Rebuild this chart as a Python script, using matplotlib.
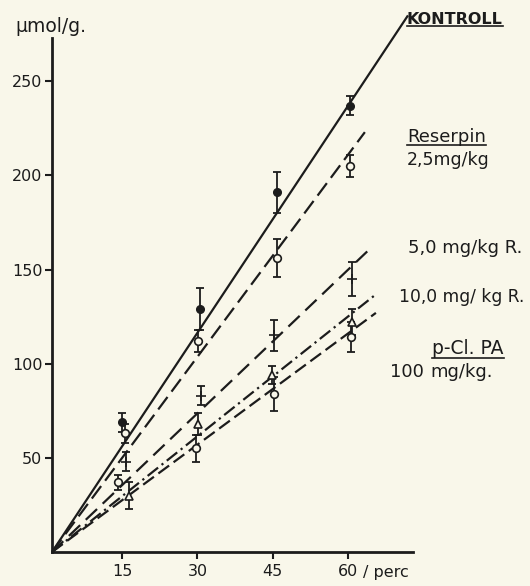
import matplotlib
matplotlib.use("Agg")
import matplotlib.pyplot as plt
from matplotlib.lines import Line2D

# ---- data ----
series_names = ["KONTROLL", "Reserpin 2,5", "5,0 R", "10,0 R", "p-Cl PA"]

x_ctrl = [15, 30.6, 45.8, 60.5]
y_ctrl = [69, 129, 191, 237]
e_ctrl = [5, 11, 11, 5]

x_res25 = [15.5, 30.2, 45.8, 60.5]
y_res25 = [63, 112, 156, 205]
e_res25 = [5, 6, 10, 6]

x_res5 = [15.8, 30.8, 45.2, 60.8]
y_res5 = [48, 83, 115, 145]
e_res5 = [5, 5, 8, 9]

x_res10 = [16.3, 30.2, 44.8, 60.8]
y_res10 = [30, 68, 94, 122]
e_res10 = [7, 6, 5, 7]

x_pcl = [14.2, 29.8, 45.3, 60.6]
y_pcl = [37, 55, 84, 114]
e_pcl = [4, 7, 9, 8]

# regression lines: from origin to end point
line_end_x = [72.0, 63.4, 64.8, 65.2, 65.6]
line_end_y = [285, 223, 162, 136, 127]

x_ticks = [15, 30, 45, 60]
y_ticks = [50, 100, 150, 200, 250]

ink = "#1c1c1c"
bg = "#f9f7ea"

fig = plt.figure(figsize=(5.30, 5.86), dpi=100, facecolor=bg)
ax = fig.add_axes([52 / 530, 1 - 552 / 586, (413 - 52) / 530, (552 - 38) / 586],
                  facecolor=bg)

x0 = 1.0
ax.set_xlim(x0, 73.0)
ax.set_ylim(0, 273)

dash_styles = [None, (7, 3), (7, 3.5), (6, 2, 1, 2), (6, 2.5)]
for i in range(5):
    kw = {}
    if dash_styles[i] is not None:
        kw["dashes"] = dash_styles[i]
    ax.plot([x0, line_end_x[i]], [0, line_end_y[i]], color=ink, lw=1.6,
            clip_on=False, solid_capstyle="butt", **kw)

marker_sets = [
    (x_ctrl, y_ctrl, e_ctrl, dict(marker="o", ms=5.5, mfc=ink, mec=ink)),
    (x_res25, y_res25, e_res25, dict(marker="o", ms=5.5, mfc=bg, mec=ink, mew=1.2)),
    (x_res5, y_res5, e_res5, dict(marker="+", ms=7, mec=ink, mew=1.2)),
    (x_res10, y_res10, e_res10, dict(marker="^", ms=5.5, mfc=bg, mec=ink, mew=1.2)),
    (x_pcl, y_pcl, e_pcl, dict(marker="o", ms=5.5, mfc=bg, mec=ink, mew=1.2)),
]
for xs, ys, es, mk in marker_sets:
    ax.errorbar(xs, ys, yerr=es, fmt="none", ecolor=ink, elinewidth=1.3,
                capsize=3, capthick=1.3, zorder=3)
    ax.plot(xs, ys, ls="none", zorder=4, **mk)

for s in ["top", "right"]:
    ax.spines[s].set_visible(False)
for s in ["left", "bottom"]:
    ax.spines[s].set_linewidth(2.0)
    ax.spines[s].set_color(ink)

ax.set_xticks(x_ticks)
ax.set_yticks(y_ticks)
ax.tick_params(axis="both", direction="out", length=5, width=1.5,
               colors=ink, labelsize=11.5)
ax.tick_params(axis="x", pad=4)
ax.tick_params(axis="y", pad=2)


def ftxt(xp, yp, s, **kw):
    return fig.text(xp / 530, 1 - yp / 586, s, color=ink, va="center", **kw)


ftxt(15, 27, "\u00b5mol/g.", fontsize=13.5)
ftxt(363, 573, "/ perc", fontsize=11.5)

t_k = ftxt(407, 19, "KONTROLL", fontsize=11.5, fontweight="bold")
t_r = ftxt(407, 137, "Reserpin", fontsize=13)
ftxt(407, 160, "2,5mg/kg", fontsize=12.5)
ftxt(408, 248, "5,0 mg/kg R.", fontsize=13)
ftxt(399, 297, "10,0 mg/ kg R.", fontsize=12.3)
t_p = ftxt(432, 349, "p-Cl. PA", fontsize=13.5)
ftxt(390, 372, "100", fontsize=13)
ftxt(430, 372, "mg/kg.", fontsize=13)

fig.canvas.draw()
r = fig.canvas.get_renderer()
W, H = fig.bbox.width, fig.bbox.height
for t in [t_k, t_r, t_p]:
    bb = t.get_window_extent(r)
    yline = (bb.y0 + 1) / H
    fig.add_artist(Line2D([bb.x0 / W, bb.x1 / W], [yline, yline],
                          color=ink, lw=1.2, transform=fig.transFigure))

fig.savefig("out.png", dpi=100, facecolor=bg)
